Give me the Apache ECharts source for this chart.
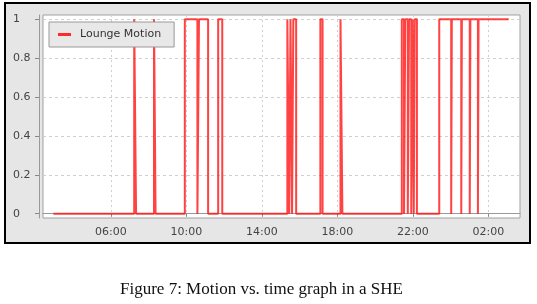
<!DOCTYPE html>
<html>
<head>
<meta charset="utf-8">
<script src="https://cdn.jsdelivr.net/npm/echarts@6/dist/echarts.min.js"></script>
<style>
  html, body { margin: 0; padding: 0; background: #fff; }
  #chart { width: 537px; height: 304px; }
</style>
</head>
<body>
<div id="chart"></div>
<script>
// state changes of the lounge motion sensor (hours past 24 are the next day)
const eventTimes = [
  '02:57', '07:14', '07:20', '08:17', '08:22', '09:55', '10:35', '10:40',
  '11:09', '11:41', '11:54', '15:21', '15:27', '15:31', '15:36', '15:40',
  '15:49', '17:06', '17:13', '18:10', '18:16', '21:25', '21:32', '21:36',
  '21:44', '21:48', '21:55', '21:59', '22:03', '22:06', '22:13', '23:24',
  '24:02', '24:04', '24:34', '24:36', '25:01', '25:03', '25:27', '25:29',
  '27:05'
]
const motionValues = [
  0, 1, 0, 1, 0, 1, 0, 1,
  0, 1, 0, 1, 0, 1, 0, 1,
  0, 1, 0, 1, 0, 1, 0, 1,
  0, 1, 0, 1, 0, 1, 0, 1,
  0, 1, 0, 1, 0, 1, 0, 1,
  1
]
const xTicks = [6, 10, 14, 18, 22, 26]
const yTicks = [0, 0.2, 0.4, 0.6, 0.8, 1]

const toHours = (s) => {
  const [h, m] = s.split(':').map(Number)
  return h + m / 60
}
const data = eventTimes.map((t, i) => [toHours(t), motionValues[i]])

const chart = echarts.init(document.getElementById('chart'))
const labelColor = '#444'
const fontFamily = 'DejaVu Sans'

chart.setOption({
  animation: false,
  textStyle: { fontFamily },
  graphic: [
    {
      type: 'rect',
      z: -10,
      shape: { x: 5, y: 3, width: 525, height: 240 },
      style: { fill: '#e6e6e6', stroke: '#000', lineWidth: 2 },
    },
    {
      type: 'text',
      left: 120,
      top: 281,
      style: {
        text: 'Figure 7: Motion vs. time graph in a SHE',
        font: '17px "Liberation Serif"',
        fill: '#111',
      },
    },
  ],
  grid: {
    left: 43,
    top: 15,
    right: 17,
    bottom: 86,
    show: true,
    backgroundColor: '#fff',
    borderColor: '#a0a0a0',
    borderWidth: 1,
  },
  legend: {
    left: 49,
    top: 22,
    padding: [7, 13, 7, 9],
    backgroundColor: '#e8e8e8',
    borderColor: '#999',
    borderWidth: 1,
    icon: 'rect',
    itemWidth: 13,
    itemHeight: 3,
    itemGap: 10,
    textStyle: { fontSize: 11, color: '#333', padding: [0, 0, 0, 4] },
    data: ['Lounge Motion'],
  },
  xAxis: {
    type: 'value',
    min: 2.4,
    max: 27.68,
    offset: 2,
    axisLine: { lineStyle: { color: '#999' } },
    axisTick: { show: true, length: 3, customValues: xTicks, lineStyle: { color: '#888' } },
    axisLabel: {
      customValues: xTicks,
      color: labelColor,
      fontSize: 11,
      margin: 7,
      formatter: (v) => String(Math.round(v) % 24).padStart(2, '0') + ':00',
    },
    splitLine: { show: true, lineStyle: { color: '#cfcfcf', type: [2, 3] } },
  },
  yAxis: {
    type: 'value',
    min: -0.022,
    max: 1.022,
    offset: 4,
    axisLine: { show: true, lineStyle: { color: '#999' } },
    axisTick: { show: true, length: 4, customValues: yTicks, lineStyle: { color: '#888' } },
    axisLabel: {
      customValues: yTicks,
      color: labelColor,
      fontSize: 11,
      align: 'left',
      margin: 26,
      formatter: (v) => (v === 0 || v === 1 ? String(v) : v.toFixed(1)),
    },
    splitLine: { show: true, lineStyle: { color: '#cfcfcf', type: [3, 3] } },
  },
  series: [
    {
      name: 'Lounge Motion',
      type: 'line',
      step: 'end',
      data: data,
      symbol: 'none',
      color: '#ff2a2a',
      lineStyle: { width: 2, color: 'rgba(255, 20, 20, 0.8)' },
      emphasis: { disabled: true },
    },
  ],
})
</script>
</body>
</html>
